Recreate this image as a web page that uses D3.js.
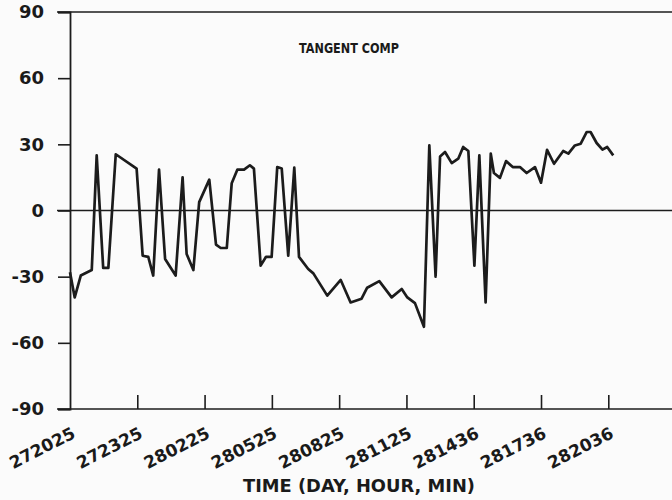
<!DOCTYPE html>
<html>
<head>
<meta charset="utf-8">
<script src="https://cdn.jsdelivr.net/npm/d3@7"></script>
<style>
  body { margin: 0; background: #fbfbfb; }
  svg { display: block; }
  text { font-family: "DejaVu Sans", sans-serif; font-weight: bold; fill: #1a1a1a; }
</style>
</head>
<body>
<div id="chart"></div>
<script>
// tick positions in hours after 27d 20:25, with the printed labels
const tickHours = [0, 3, 6, 9, 12, 15, 18, 21, 24];
const tickLabels = ["272025", "272325", "280225", "280525", "280825", "281125", "281436", "281736", "282036"];
const yTicks = [-90, -60, -30, 0, 30, 60, 90];
const yTickLabels = ["-90", "-60", "-30", "0", "30", "60", "90"];

// tangent component
const hours = [0, 0.21, 0.48, 0.97, 1.19, 1.48, 1.71, 2.04, 2.97, 3.24, 3.49, 3.71, 3.97, 4.24, 4.71,
  5.02, 5.2, 5.5, 5.76, 6.21, 6.51, 6.72, 6.99, 7.21, 7.46, 7.76, 8.02, 8.2, 8.5, 8.74, 8.99,
  9.24, 9.44, 9.73, 10.0, 10.21, 10.62, 10.85, 11.47, 12.07, 12.51, 13.0, 13.25, 13.79, 14.34,
  14.79, 15.04, 15.38, 15.78, 16.02, 16.3, 16.5, 16.72, 17.02, 17.31, 17.53, 17.76, 18.03, 18.25,
  18.53, 18.76, 18.9, 19.17, 19.44, 19.74, 20.06, 20.36, 20.73, 21.0, 21.27, 21.58, 21.99, 22.22,
  22.51, 22.77, 23.04, 23.21, 23.48, 23.74, 23.95, 24.22];
const tangent = [-28, -39.4, -29.5, -27, 25, -26, -26, 25.5, 19, -20.5, -21, -29.5, 18.5, -22, -29.5,
  15, -19.7, -27, 3.8, 14, -15.5, -17, -17, 12.4, 18.5, 18.5, 20.5, 19, -25, -21, -21,
  19.7, 19, -20.5, 19.4, -21, -26.5, -28.5, -38.6, -31.5, -41.7, -40, -35, -32, -39.4,
  -35.6, -39.4, -42, -52.7, 29.5, -30, 24.5, 26.5, 21.5, 23.5, 28.8, 27, -25, 25,
  -41.7, 25.8, 17, 14.8, 22.4, 19.7, 19.7, 17, 19.7, 12.6, 27.5, 21.2, 27, 25.8,
  29.5, 30.3, 35.6, 35.6, 30.6, 27.6, 28.8, 25];

const width = 672;
const height = 500;

const x = d3.scaleLinear().domain([0, 24]).range([70, 608.3]);
const y = d3.scaleLinear().domain([-90, 90]).range([409, 12]);

const svg = d3.select("#chart")
              .append("svg")
              .attr("width", width)
              .attr("height", height);

const ink = "#1c1c1c";

// frame lines: top, zero, bottom run right off the page
svg.append("g")
   .attr("stroke", ink)
   .attr("stroke-width", 1.6)
   .selectAll("line")
   .data([90, 0, -90])
   .join("line")
   .attr("x1", x(0) - 13)
   .attr("x2", width)
   .attr("y1", d => y(d))
   .attr("y2", d => y(d));

// left axis
const yAxis = svg.append("g")
   .attr("transform", `translate(${x(0)},0)`)
   .call(d3.axisLeft(y)
           .tickValues(yTicks)
           .tickFormat((d, i) => yTickLabels[i])
           .tickSize(12)
           .tickPadding(14));
yAxis.select(".domain").attr("stroke", ink).attr("stroke-width", 1.8);
yAxis.selectAll(".tick line").attr("stroke", ink).attr("stroke-width", 1.6);
yAxis.selectAll("text")
     .attr("font-size", 18)
     .attr("font-family", null)
     .attr("fill", ink);

// bottom axis, ticks point up into the plot
const xAxis = svg.append("g")
   .attr("transform", `translate(0,${y(-90)})`)
   .call(d3.axisBottom(x)
           .tickValues(tickHours)
           .tickFormat((d, i) => tickLabels[i])
           .tickSize(-14));
xAxis.select(".domain").remove();
xAxis.selectAll(".tick line")
     .attr("stroke", ink)
     .attr("stroke-width", 1.6)
     .attr("opacity", (d, i) => i === 0 ? 0 : 1);
xAxis.selectAll("text")
     .attr("font-size", 17)
     .attr("font-family", null)
     .attr("fill", ink)
     .attr("text-anchor", "end")
     .attr("y", 0)
     .attr("dy", null)
     .attr("transform", "translate(6,28) rotate(-27)");

// the series
const line = d3.line()
               .x((d, i) => x(hours[i]))
               .y(d => y(d));

svg.append("path")
   .datum(tangent)
   .attr("fill", "none")
   .attr("stroke", ink)
   .attr("stroke-width", 2.7)
   .attr("stroke-linejoin", "round")
   .attr("d", line);

// labels
svg.append("text")
   .attr("x", 299)
   .attr("y", 53)
   .attr("font-family", "'Liberation Sans', sans-serif")
   .attr("font-size", 13.5)
   .attr("textLength", 100)
   .attr("lengthAdjust", "spacingAndGlyphs")
   .text("TANGENT COMP");

svg.append("text")
   .attr("x", 243)
   .attr("y", 492)
   .attr("font-size", 17)
   .attr("textLength", 232)
   .attr("lengthAdjust", "spacingAndGlyphs")
   .text("TIME (DAY, HOUR, MIN)");
</script>
</body>
</html>
